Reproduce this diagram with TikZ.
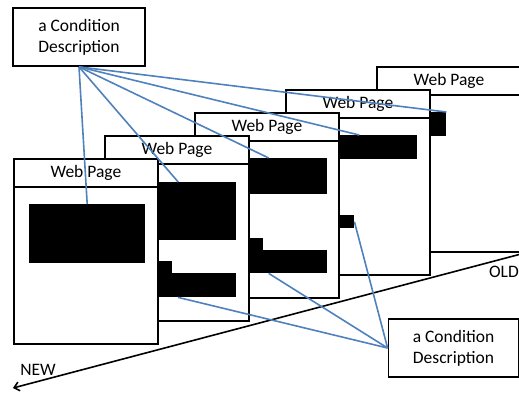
\documentclass[tikz,border=0pt]{standalone}
\usepackage{fontspec}
\setmainfont{Carlito}
\usetikzlibrary{arrows.meta}
\definecolor{linkblue}{HTML}{4F81BD}
\tikzset{
  page/.style={draw, fill=white, line width=1.8pt, anchor=north west,
    minimum width=144pt, minimum height=185pt, inner sep=0pt},
  pagetitle/.style={font=\fontsize{17.5}{21}\selectfont, inner sep=0pt},
  block/.style={fill=black, anchor=north west, inner sep=0pt},
  descbox/.style={draw, fill=white, line width=1.8pt, minimum width=130pt,
    minimum height=58pt, align=center, font=\fontsize{17.5}{21}\selectfont},
  link/.style={linkblue, line width=1.6pt},
}
% one page: frame, header line and title
\newcommand{\webpage}[3]{%
  \node[page] (#1) at (#2,#3) {};
  \draw[line width=1.8pt] ([yshift=-29pt]#1.north west) -- ([yshift=-29pt]#1.north east);
  \node[pagetitle] (#1t) at ([yshift=-14.5pt]#1.north) {Web Page};
}
% a black block inside a page
\newcommand{\blk}[6]{%
  \node[block, minimum width=#5pt, minimum height=#6pt] (#1) at ([shift={(#3,#4)}]#2.north west) {};
}
\begin{document}
\begin{tikzpicture}[x=1pt, y=-1pt]
  \useasboundingbox (0,0) rectangle (519,392);
  % pages, oldest at the back
  \webpage{pgE}{376}{66}
  \blk{blkE}{pgE}{16}{46}{54}{24}
  \webpage{pgD}{285}{89}
  \blk{blkDa}{pgD}{16}{46}{116}{24}
  \blk{blkDb}{pgD}{16}{126}{53}{13}
  \webpage{pgC}{194}{112}
  \blk{blkCa}{pgC}{16}{46}{117}{36}
  \blk{blkCs}{pgC}{16}{126}{53}{12}
  \blk{blkCb}{pgC}{16}{138}{117}{23}
  \webpage{pgB}{104}{135}
  \blk{blkBa}{pgB}{16}{47}{116}{58}
  \blk{blkBs}{pgB}{16}{126}{52}{12}
  \blk{blkBb}{pgB}{16}{138}{116}{24}
  \webpage{pgA}{13}{158}
  \blk{blkA}{pgA}{16}{46}{116}{59}
  % condition descriptions
  \node[descbox, minimum width=132pt] (desctop) at (79,37) {a Condition\\Description};
  \node[descbox] (descbot) at (453.5,348) {a Condition\\Description};
  % time axis
  \coordinate (old) at (521,254);
  \coordinate (new) at (13,388);
  \draw[line width=1.6pt, -{Straight Barb[length=5pt, width=9pt]}] (old) -- (new);
  \node[pagetitle, anchor=east] (oldlbl) at (519,272) {OLD};
  \node[pagetitle] (newlbl) at (38,370) {NEW};
  % links from the descriptions
  \draw[link] (desctop.south) -- (blkA.north);
  \draw[link] (desctop.south) -- (blkBa.north);
  \draw[link] (desctop.south) -- (blkCa.north);
  \draw[link] (desctop.south) -- (blkDa.north);
  \draw[link] (desctop.south) -- (blkE.north east);
  \draw[link] (descbot.west) -- (blkBb.south);
  \draw[link] (descbot.west) -- (blkCb.south);
  \draw[link] (descbot.west) -- (blkDb.east);
\end{tikzpicture}
\end{document}
